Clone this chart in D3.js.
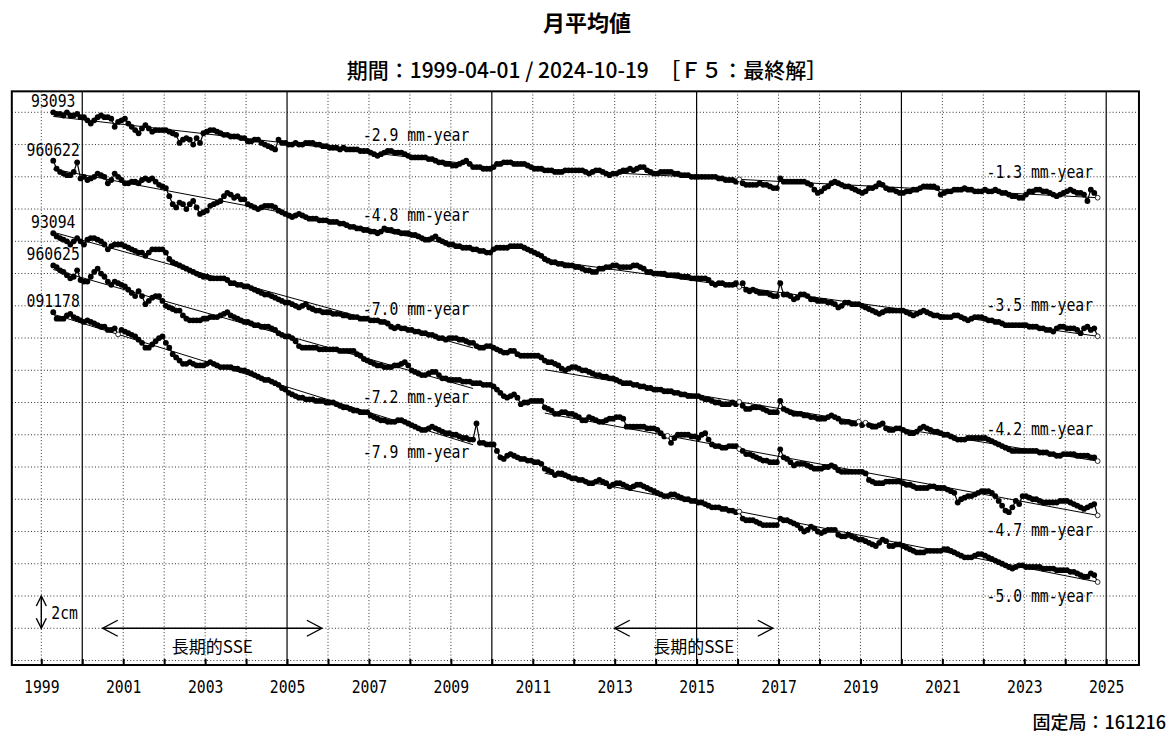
<!DOCTYPE html>
<html>
<head>
<meta charset="utf-8">
<script src="https://cdn.jsdelivr.net/npm/d3@7"></script>
<style>
body { margin: 0; background: #fff; }
svg { display: block; }
.mono { font-family: "DejaVu Sans Mono", monospace; font-size: 18px; fill: #000; }
.jp { font-family: "Noto Sans CJK JP", sans-serif; fill: #000; }
</style>
</head>
<body>
<div id="vis"></div>
<script>
var width = 1174;
var height = 743;

var stations = ['93093', '960622', '93094', '960625', '091178'];
// vertical placement of each station on the sheet (mm)
var baseLevels = [340, 310, 265, 245, 216];
var trendPeriods = [['1999-04', '2009-07'], ['2011-04', '2024-10']];
var trendRates = [[-2.9, -1.3], [-4.8, -3.5], [-7.0, -4.2], [-7.2, -4.7], [-7.9, -5.0]];
var ssePeriods = [[2000.5, 2005.85], [2013.0, 2016.86]];
var tickYears = [1999, 2001, 2003, 2005, 2007, 2009, 2011, 2013, 2015, 2017, 2019, 2021, 2023, 2025];
var firstMonth = [1999, 4];
var lastMonth = [2024, 10];

// monthly displacement (mm), one row per year, null = no solution
var disp93093 = [
  0, -1, -1, -2, 0, -2, -2, -1, -3,
  -3, -5, -7, -5, -3, -2, -3, -3, -4, -9, -6, -5,
  -4, -7, -9, -11, -13, -10, -8, -10, -12, -11, -11, -11,
  -11, -12, -13, -14, -19, -17, -16, -17, -20, -16, -19, -13,
  -12, -11, -11, -12, -13, -14, -14, -15, -15, -15, -16, -16,
  -18, -18, -17, -17, -19, -20, -21, -22, -23, -17, -19, -19,
  -20, -20, -19, -20, -20, -19, -19, -19, -20, -20, -21, -21,
  -22, -22, -22, -23, -22, -23, -23, -23, -23, -24, -24, -24,
  -25, -26, -27, -26, -25, -24, -24, -25, -25, -25, -26, -27,
  -28, -28, -28, -28, -28, -29, -29, -30, -31, -31, -32, -32,
  -33, -33, -32, -31, -30, -32, -34, -34, -34, -35, -35, -35,
  -34, -32, -32, -31, -31, -31, -32, -32, -32, -32, -33, -34,
  -35, -35, -35, -36, -36, -36, -37, -37, -37, -36, -36, -36,
  -36, -36, -36, -37, -38, -37, -36, -36, -37, -38, -39, -38,
  -38, -37, -36, -36, -35, -36, -35, -34, -34, -36, -37, -38,
  -38, -37, -37, -37, -37, -38, -38, -39, -39, -39, -40, -40,
  -40, -40, -40, -40, -40, -40, -41, -41, -42, -42, -42, -43,
  null, -44, -45, -45, -45, -45, -44, -45, -45, -46, -47, -47,
  -41, -43, -43, -43, -43, -43, -43, -43, -44, -45, -48, -50,
  -49, -47, -46, -44, -43, -44, -45, -46, -46, -47, -48, -49,
  -50, -49, -47, -47, -46, -44, -45, -47, -48, -48, -49, -50,
  -50, -49, -49, -48, -48, -47, -46, -46, -46, -46, -47, -51,
  -50, -49, -49, -48, -48, -48, -47, -48, -48, -49, -49, -49,
  -48, -49, -49, -48, -49, -50, -50, -51, -52, -52, -53, -53,
  -51, -49, -49, -48, -48, -49, -49, -50, -51, -52, -51, -50,
  -49, -48, -49, -50, -50, -51, -55, -48, -50, null
];

var disp960622 = [
  0, -5, -7, -8, -9, -9, -7, -1, -11,
  -10, -12, -11, -10, -8, -9, -10, -14, -12, -8, -10, -12,
  -14, -14, -13, -13, -14, -12, -11, -12, -11, -13, -15, -16,
  -17, -22, -27, -29, -26, -27, -30, -27, -25, -29, -33, -32,
  -31, -28, -27, -26, -25, -22, -20, -21, -23, -22, -24, -24,
  -27, -28, -29, -30, -29, -28, -28, -28, -29, -31, -32, -33,
  -34, -35, -34, -33, -34, -35, -36, -36, -36, -37, -37, -37,
  -38, -38, -38, -39, -39, -40, -41, -41, -42, -42, -43, -43,
  -44, -44, -45, -44, -42, -43, -43, -44, -44, -45, -45, -45,
  -46, -46, -47, -48, -49, -49, -48, -47, -49, -50, -51, -52,
  -52, -53, -53, -54, -54, -54, -55, -55, -56, -56, -57, -57,
  -55, -54, -54, -54, -54, -53, -53, -53, -53, -54, -55, -56,
  -57, -58, -59, -61, -62, -63, -63, -64, -64, -65, -65, -65,
  -66, -66, -67, -68, -68, -69, -69, -67, -67, -66, -66, -65,
  -65, -66, -66, -66, -66, -65, -65, -66, -67, -69, -69, -70,
  -70, -70, -70, -71, -71, -71, -71, -72, -72, -72, -73, -73,
  -73, -73, -73, -74, -76, -77, -76, -76, -77, -77, -77, -76,
  null, -76, -80, -81, -80, -81, -82, -82, -82, -83, -84, -84,
  -76, -83, -83, -84, -86, -85, -83, -83, -84, -86, -86, -87,
  -87, -87, -88, -88, -89, -91, -90, -88, -88, -89, -89, -89,
  -90, -91, -92, -93, -94, -95, -94, -93, -93, -93, -93, -93,
  -93, -94, -95, -96, -95, -94, -93, -94, -95, -96, -96, -97,
  -97, -97, -97, -96, -96, -97, -98, -99, -98, -97, -97, -97,
  -98, -99, -99, -100, -100, -101, -102, -102, -102, -102, -102, -102,
  -102, -103, -103, -103, -104, -104, -105, -105, -106, -104, -103, -103,
  -104, -104, -104, -105, -107, -104, -103, -105, -104, null
];

var disp93094 = [
  0, -2, -3, -4, -5, -7, -5, -3, -5,
  -7, -4, -3, -3, -4, -5, -7, -10, -8, -7, -7, -7,
  -8, -9, -10, -11, -12, -12, -14, -12, -10, -10, -10, -10,
  -12, -16, -18, -19, -20, -21, -22, -23, -24, -25, -26, -27,
  -27, -28, -28, -28, -28, -28, -29, -31, -31, -32, -32, -33,
  -33, -34, -35, -36, -37, -38, -38, -39, -40, -41, -42, -43,
  -43, -44, -45, -46, -45, -44, -46, -47, -48, -48, -49, -49,
  -49, -50, -50, -50, -51, -51, -52, -52, -52, -53, -53, -53,
  -54, -54, -54, -55, -55, -56, -58, -59, -58, -59, -59, -60,
  -60, -61, -61, -62, -62, -63, -63, -64, -65, -65, -66, -65,
  -65, -65, -66, -66, -67, -68, -68, -70, -71, -71, -70, -70,
  -71, -72, -73, -74, -74, -73, -73, -75, -76, -76, -76, -76,
  -76, -76, -77, -79, -80, -80, -81, -82, -84, -85, -84, -83,
  -83, -84, -85, -85, -86, -87, -88, -88, -89, -89, -90, -90,
  -91, -92, -93, -93, -93, -94, -94, -95, -95, -96, -96, -97,
  -97, -97, -98, -98, -98, -99, -99, -100, -100, -101, -101, -101,
  -101, -102, -103, -103, -104, -105, -105, -106, -106, -106, -105, -106,
  null, -107, -109, -109, -108, -108, -108, -109, -110, -111, -111, -111,
  -104, -109, -110, -111, -112, -112, -112, -113, -113, -114, -114, -115,
  -115, -115, -114, -113, -114, -115, -117, -117, -117, -118, -118, null,
  -119, null, -119, -120, -120, -119, -118, -121, -122, -122, -121, -121,
  -122, -123, -124, -124, -123, -121, -120, -121, -122, -123, -123, -124,
  -125, -125, -126, -127, -128, -128, -128, -127, -127, -127, -127, -127,
  -127, -128, -129, -130, -131, -132, -133, -134, -135, -135, -135, -135,
  -135, -135, -135, -135, -136, -136, -136, -137, -137, -138, -138, -137,
  -137, -137, -137, -138, -138, -138, -138, -139, -139, null
];

var disp960625 = [
  0, -1, -3, -4, -6, -8, -7, -3, -9,
  -10, -10, -7, -4, -2, -5, -7, -10, -12, -10, -11, -12,
  -13, -15, -17, -19, -16, -19, -24, -22, -20, -19, -19, -22,
  -25, -26, -27, -28, -28, -31, -33, -34, -34, -34, -34, -33,
  -33, -32, -32, -32, -31, -30, -29, -31, -32, -33, -34, -35,
  -35, -36, -37, -37, -38, -38, -38, -39, -40, -42, -43, -44,
  -44, -45, -47, -50, -51, -51, -51, -51, -51, -52, -52, -52,
  -52, -52, -52, -53, -53, -53, -53, -53, -55, -56, -58, -59,
  -60, -61, -62, -62, -63, -63, -63, -62, -62, -61, -60, -62,
  -65, -66, -67, -68, -68, -67, -66, -66, -68, -70, -70, -71,
  -71, -71, -71, -72, -72, -72, -73, -73, -73, -74, -74, -74,
  -75, -77, -79, -81, -82, -81, -80, -82, -86, -85, -85, -84,
  -84, -84, -84, -88, -89, -90, -92, -92, -91, -91, -92, -92,
  -93, -94, -96, -96, -94, -95, -96, -97, -97, -96, -95, -95,
  -94, -94, -95, -100, -100, -100, -100, -100, -100, -101, -101, -101,
  -102, -104, -106, null, -110, -107, -105, -105, -105, -105, -106, -106,
  -107, -105, -104, -108, -111, -112, -112, -113, -113, -112, -112, -112,
  null, -115, -117, -117, -118, -119, -120, -121, -121, -122, -122, -122,
  -114, -119, -120, -122, -124, -123, -123, -123, -124, -125, -126, -126,
  -126, -125, -125, -124, -125, -127, -128, -128, -128, -128, -128, -128,
  -128, -129, -133, -134, -135, -135, -135, -134, -134, -134, -134, -134,
  -135, -136, -136, -137, -138, -138, -138, -138, -137, -137, -138, -138,
  -138, -139, -140, -141, -147, -145, -144, -143, -143, -142, -141, -140,
  -140, -140, -141, -143, -146, -149, -152, -153, -150, -146, -148, -143,
  -143, -144, -145, -145, -146, -147, -147, -147, -147, -147, -146, -146,
  -146, -147, -148, -149, -150, -151, -150, -149, -148, null
];

var disp091178 = [
  0, -4, -4, -4, -2, -1, -3, -4, -5,
  -6, -5, -6, -7, -8, -9, -9, -11, -11, -10, null, -11,
  -12, -13, -14, -15, -17, -19, -22, -22, -20, -18, -16, -15,
  -19, -22, -26, -28, -30, -32, -32, -31, -32, -33, -33, -33,
  -32, -31, -32, -33, -34, -34, -34, -34, -35, -35, -36, -36,
  -37, -38, -39, -40, -41, -42, -42, -43, -44, -45, -47, -48,
  -50, -51, -52, -53, -53, -54, -54, -54, -55, -55, -55, -56,
  -56, -56, -57, -58, -59, -59, -60, -61, -61, -62, -62, -62,
  -64, -65, -66, -67, -67, -68, -68, -68, -67, -67, -68, -69,
  -70, -71, -72, -73, -73, -72, -71, -72, -73, -74, -75, -75,
  -76, -76, -77, -78, -78, -79, -79, -69, -81, -81, -82, -82,
  -82, -86, -90, -91, -89, -88, -89, -90, -91, -91, -92, -92,
  -93, -93, -94, -97, -98, -99, -101, -100, -100, -101, -102, -103,
  -103, -104, -104, -105, -106, -106, -105, -104, -105, -106, -108, -107,
  -106, -106, -107, -108, -109, -108, -107, -107, -108, -109, -110, -111,
  -112, -113, -114, -114, -113, -113, -114, -115, -116, -116, -117, -117,
  -118, -118, -119, -120, -121, -121, -121, -122, -122, -123, -123, -124,
  null, -128, -129, -129, -129, -130, -131, -132, -132, -132, -132, -132,
  -128, -129, -129, -130, -131, -132, -134, -136, -135, -133, -134, -136,
  -137, -136, -135, -135, -135, -138, -139, -139, -138, -139, -140, -141,
  -141, -142, -143, -144, -145, -143, -141, -142, -145, -145, -144, -144,
  -145, -146, -147, -148, -149, -149, -149, -148, -148, -148, -148, -148,
  -147, -147, -148, -149, -150, -151, -152, -152, -152, -151, -150, -150,
  -151, -152, -153, -154, -155, -156, -157, -158, -159, -158, -157, -157,
  -158, -158, -158, -158, -158, -159, -159, -159, -159, -160, -160, -160,
  -160, -161, -161, -162, -163, -164, -164, -162, -163, null
];

var displacements = [disp93093, disp960622, disp93094, disp960625, disp091178];

// label placement: -1 above the trend line, +1 below
var rateLabelSide = [[-1, -1], [-1, -1], [-1, -1], [1, 1], [1, 1]];

function monthToYear(s) {
    var p = s.split('-');
    return +p[0] + (+p[1] - 0.5) / 12;
}

var months = [];
var monthCount = (lastMonth[0] - firstMonth[0]) * 12 + lastMonth[1] - firstMonth[1] + 1;
for (var i = 0; i < monthCount; i++) {
    months.push(firstMonth[0] + (firstMonth[1] - 1 + i + 0.5) / 12);
}

var x = d3.scaleLinear().domain([1999, 2025]).range([41.3, 1106.2]);
var y = d3.scaleLinear().domain([0, 340]).range([660.5, 112.3]);

var frameLeft = x(1998.28), frameRight = x(2025.8);
var frameTop = y(353), frameBottom = y(-2.8);

var svg = d3.select('#vis').append('svg')
    .attr('width', width)
    .attr('height', height);

function squeezedText(parent, px, py, str, anchor) {
    return parent.append('text')
        .attr('class', 'mono')
        .attr('transform', 'translate(' + px + ',' + py + ') scale(0.82,1)')
        .attr('text-anchor', anchor)
        .attr('dominant-baseline', 'central')
        .text(str);
}

// titles
svg.append('text').attr('class', 'jp')
    .attr('x', 587).attr('y', 21)
    .attr('text-anchor', 'middle').attr('dominant-baseline', 'central')
    .style('font-size', '22px').style('font-weight', 'bold')
    .text('月平均値');
svg.append('text').attr('class', 'jp')
    .attr('x', 587).attr('y', 69)
    .attr('text-anchor', 'middle').attr('dominant-baseline', 'central')
    .style('font-size', '21px').style('font-weight', 500)
    .text('期間：1999-04-01 / 2024-10-19　［Ｆ５：最終解］');
svg.append('text').attr('class', 'jp')
    .attr('x', 1166).attr('y', 721)
    .attr('text-anchor', 'end').attr('dominant-baseline', 'central')
    .style('font-size', '18px').style('font-weight', 500)
    .text('固定局：161216');

// grid
var grid = svg.append('g');
grid.selectAll('.hgrid')
    .data(d3.range(0, 341, 20))
    .enter().append('line')
    .attr('x1', frameLeft).attr('x2', frameRight)
    .attr('y1', function (d) { return y(d); })
    .attr('y2', function (d) { return y(d); })
    .attr('stroke', '#333').attr('stroke-width', 1)
    .attr('stroke-dasharray', '1,2.2');

grid.selectAll('.vgrid')
    .data(d3.range(1999, 2026))
    .enter().append('line')
    .attr('x1', function (d) { return x(d); })
    .attr('x2', function (d) { return x(d); })
    .attr('y1', frameTop).attr('y2', frameBottom)
    .attr('stroke', function (d) { return d % 5 === 0 ? '#000' : '#333'; })
    .attr('stroke-width', function (d) { return d % 5 === 0 ? 1.2 : 1; })
    .attr('stroke-dasharray', function (d) { return d % 5 === 0 ? null : '1,2.2'; });

// bottom axis
var axis = d3.axisBottom(x)
    .tickValues(d3.range(1999, 2026))
    .tickSize(-6)
    .tickPadding(15)
    .tickFormat(function (d) { return tickYears.indexOf(d) >= 0 ? String(d) : ''; });

var axisG = svg.append('g')
    .attr('transform', 'translate(0,' + frameBottom + ')')
    .call(axis);
axisG.select('.domain').remove();
axisG.selectAll('.tick line').attr('stroke', '#000').attr('stroke-width', 2);
axisG.selectAll('.tick text')
    .attr('class', 'mono')
    .attr('transform', 'scale(0.82,1)')
    .style('font-size', '18px')
    .attr('fill', '#000');

// series
var plot = svg.append('g');

displacements.forEach(function (disp, si) {
    var base = baseLevels[si];
    var pts = months.map(function (t, i) {
        return {t: t, v: disp[i] == null ? null : base + disp[i], open: disp[i] == null};
    });

    var trends = trendPeriods.map(function (p, k) {
        var t0 = monthToYear(p[0]), t1 = monthToYear(p[1]);
        var rate = trendRates[si][k];
        var inside = pts.filter(function (d) {
            return d.v != null && d.t >= t0 - 1e-6 && d.t <= t1 + 1e-6;
        });
        var c = d3.mean(inside, function (d) { return d.v - rate * (d.t - t0); });
        return {t0: t0, t1: t1, rate: rate, at: function (t) { return c + rate * (t - t0); }};
    });

    pts.forEach(function (d) {
        if (d.open) {
            var seg = trends.filter(function (tr) { return d.t >= tr.t0 - 1e-6 && d.t <= tr.t1 + 1e-6; })[0];
            d.v = seg ? seg.at(d.t) : null;
        }
    });

    trends.forEach(function (tr) {
        plot.append('line')
            .attr('x1', x(tr.t0)).attr('y1', y(tr.at(tr.t0)))
            .attr('x2', x(tr.t1)).attr('y2', y(tr.at(tr.t1)))
            .attr('stroke', '#000').attr('stroke-width', 1);
    });

    var line = d3.line()
        .defined(function (d) { return d.v != null; })
        .x(function (d) { return x(d.t); })
        .y(function (d) { return y(d.v); });

    plot.append('path')
        .datum(pts)
        .attr('d', line)
        .attr('fill', 'none')
        .attr('stroke', '#000')
        .attr('stroke-width', 1.2);

    plot.selectAll('.dot' + si)
        .data(pts.filter(function (d) { return d.v != null; }))
        .enter().append('circle')
        .attr('cx', function (d) { return x(d.t); })
        .attr('cy', function (d) { return y(d.v); })
        .attr('r', function (d) { return d.open ? 2.4 : 2.9; })
        .attr('fill', function (d) { return d.open ? '#fff' : '#000'; })
        .attr('stroke', '#000')
        .attr('stroke-width', function (d) { return d.open ? 0.8 : 0; });

    // station name above the first point
    squeezedText(plot, x(pts[0].t), y(pts[0].v) - 11, stations[si], 'middle');

    // rate labels
    var side1 = rateLabelSide[si][0], side2 = rateLabelSide[si][1];
    var y1 = y(trends[0].at(2008.15)) + (side1 < 0 ? -23 : 25);
    var y2 = y(trends[1].at(2023.4)) + (side2 < 0 ? -23 : 25);
    squeezedText(plot, x(2006.85), y1, trends[0].rate.toFixed(1) + ' mm-year', 'start');
    squeezedText(plot, x(2024.68), y2, trends[1].rate.toFixed(1) + ' mm-year', 'end');
});

// 2cm scale arrow
var scaleG = svg.append('g').attr('stroke', '#000').attr('stroke-width', 1.4).attr('fill', 'none');
var sx = x(1999), sTop = y(40), sBot = y(20);
scaleG.append('line').attr('x1', sx).attr('x2', sx).attr('y1', sTop).attr('y2', sBot);
scaleG.append('path').attr('d', 'M' + (sx - 5) + ',' + (sTop + 10) + 'L' + sx + ',' + sTop + 'L' + (sx + 5) + ',' + (sTop + 10));
scaleG.append('path').attr('d', 'M' + (sx - 5) + ',' + (sBot - 10) + 'L' + sx + ',' + sBot + 'L' + (sx + 5) + ',' + (sBot - 10));
squeezedText(svg, sx + 10, (sTop + sBot) / 2 + 1, '2cm', 'start');

// long-term SSE arrows
ssePeriods.forEach(function (p) {
    var ay = y(20), xa = x(p[0]), xb = x(p[1]);
    var g = svg.append('g').attr('stroke', '#000').attr('stroke-width', 1.4).attr('fill', 'none');
    g.append('line').attr('x1', xa).attr('x2', xb).attr('y1', ay).attr('y2', ay);
    g.append('path').attr('d', 'M' + (xa + 15) + ',' + (ay - 8) + 'L' + xa + ',' + ay + 'L' + (xa + 15) + ',' + (ay + 8));
    g.append('path').attr('d', 'M' + (xb - 15) + ',' + (ay - 8) + 'L' + xb + ',' + ay + 'L' + (xb - 15) + ',' + (ay + 8));
    svg.append('text').attr('class', 'jp')
        .attr('x', x((p[0] + p[1]) / 2)).attr('y', ay + 17)
        .attr('text-anchor', 'middle').attr('dominant-baseline', 'central')
        .style('font-size', '17px')
        .text('長期的SSE');
});

// frame
svg.append('rect')
    .attr('x', frameLeft).attr('y', frameTop)
    .attr('width', frameRight - frameLeft).attr('height', frameBottom - frameTop)
    .attr('fill', 'none').attr('stroke', '#000').attr('stroke-width', 2);

if (displacements.some(function (d) { return d.length !== monthCount; })) {
    console.log('length mismatch', displacements.map(function (d) { return d.length; }), monthCount);
}
</script>
</body>
</html>
